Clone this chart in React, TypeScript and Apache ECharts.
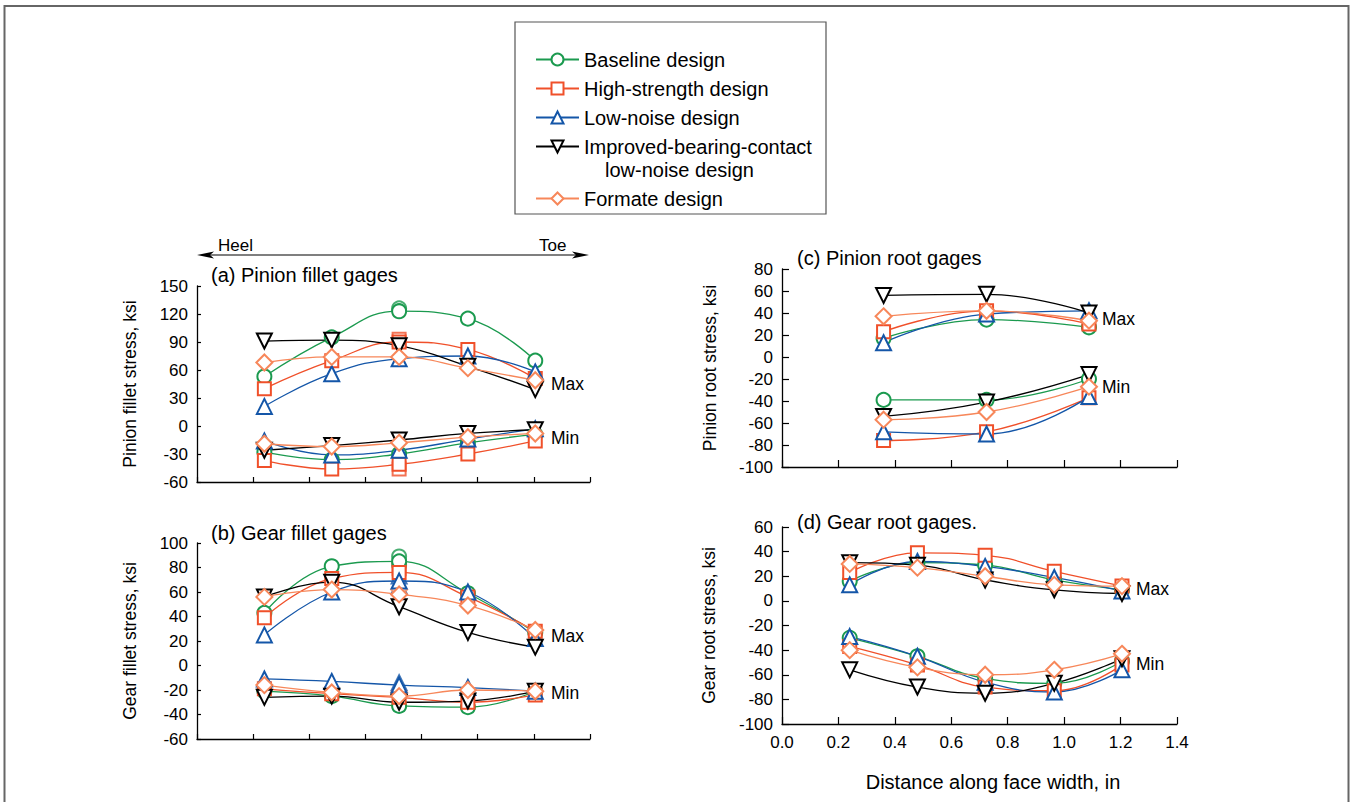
import React, { useEffect, useRef } from "react";
import * as echarts from "echarts";

// ---------- data ----------
const DESIGNS = [
  "Baseline design",
  "High-strength design",
  "Low-noise design",
  "Improved-bearing-contact low-noise design",
  "Formate design",
];
const COLORS = ["#1b9a4f", "#f0502a", "#1456a8", "#000000", "#f7875a"];
const SYMBOLS = ["emptyCircle", "emptyRect", "emptyTriangle", "emptyTriangle", "emptyDiamond"];
const SYMBOL_SIZES = [14, 13, 15, 15, 16];
const SYMBOL_ROTATE = [0, 0, 0, 180, 0];

const X_TOOTH = [0.24, 0.48, 0.72, 0.965, 1.205];
const X_PINION_ROOT = [0.36, 0.725, 1.088];

// (a) Pinion fillet gages, rows in DESIGNS order
const pinionFilletMax = [
  [53, 95, 123, 115, 70],
  [40, 70, 90, 82, 51],
  [21, 56, 72, 75, 58],
  [91, 92, 86, 64, 39],
  [68, 74, 74, 62, 49],
];
const pinionFilletMin = [
  [-28, -36, -30, -18, -9],
  [-37, -46, -41, -30, -16],
  [-16, -31, -26, -14, -3],
  [-26, -21, -15, -8, -4],
  [-19, -22, -18, -12, -8],
];
// extra gage readings at the same station: [design, x, value]
const pinionFilletExtra = [
  [0, 0.72, 126],
  [1, 0.72, 93],
  [1, 0.72, -46],
];

// (b) Gear fillet gages
const gearFilletMax = [
  [43, 81, 85, 59, 27],
  [39, 71, 76, 56, 28],
  [25, 60, 69, 60, 22],
  [56, 68, 48, 27, 15],
  [56, 62, 58, 49, 29],
];
const gearFilletMin = [
  [-21, -25, -33, -34, -21],
  [-19, -23, -26, -30, -24],
  [-11, -13, -16, -18, -21],
  [-26, -25, -30, -29, -21],
  [-16, -22, -25, -20, -21],
];
const gearFilletExtra = [
  [0, 0.72, 89],
  [0, 0.72, 82],
  [1, 0.72, 79],
  [2, 0.72, 73],
  [2, 0.72, 65],
  [4, 0.72, 62],
  [2, 0.72, -14],
  [2, 0.72, -18],
  [4, 0.72, -22],
];

// (c) Pinion root gages
const pinionRootMax = [
  [17, 34, 27],
  [23, 42, 30],
  [13, 39, 42],
  [56, 57, 40],
  [37, 42, 33],
];
const pinionRootMin = [
  [-39, -39, -20],
  [-76, -68, -37],
  [-68, -70, -36],
  [-54, -41, -16],
  [-57, -50, -27],
];

// (d) Gear root gages
const gearRootMax = [
  [16, 31, 29, 17, 9],
  [23, 39, 37, 24, 12],
  [13, 32, 28, 19, 8],
  [31, 29, 17, 9, 6],
  [30, 27, 20, 13, 12],
];
const gearRootMin = [
  [-30, -45, -63, -67, -49],
  [-37, -52, -70, -73, -52],
  [-29, -45, -66, -74, -56],
  [-56, -70, -75, -67, -47],
  [-40, -54, -60, -56, -43],
];

const PANEL_TITLES = ["(a) Pinion fillet gages", "(b) Gear fillet gages", "(c) Pinion root gages", "(d) Gear root gages."];
const Y_NAMES = ["Pinion fillet stress, ksi", "Gear fillet stress, ksi", "Pinion root stress, ksi", "Gear root stress, ksi"];
const Y_MIN = [-60, -60, -100, -100];
const Y_MAX = [150, 100, 80, 60];
const Y_STEP = [30, 20, 20, 20];
const X_NAME = "Distance along face width, in";

// ---------- layout ----------
const FONT = "'Liberation Sans', Arial, Helvetica, sans-serif";
const GRIDS = [
  { left: 197, top: 286, width: 393, height: 196 },
  { left: 197, top: 543, width: 393, height: 196 },
  { left: 782, top: 269, width: 395, height: 198 },
  { left: 782, top: 527, width: 395, height: 197 },
];
const NAME_GAPS = [58, 58, 63, 64];
const TITLE_POS = [
  [211, 265],
  [211, 523],
  [797, 248],
  [797, 512],
];
const MAXMIN_POS = [
  [551, 384, 551, 438],
  [551, 636, 551, 693],
  [1102, 319, 1102, 387],
  [1136, 589, 1136, 664],
];

const PANELS = [
  { xs: X_TOOTH, max: pinionFilletMax, min: pinionFilletMin, extra: pinionFilletExtra },
  { xs: X_TOOTH, max: gearFilletMax, min: gearFilletMin, extra: gearFilletExtra },
  { xs: X_PINION_ROOT, max: pinionRootMax, min: pinionRootMin, extra: [] as number[][] },
  { xs: X_TOOTH, max: gearRootMax, min: gearRootMin, extra: [] as number[][] },
];

const pair = (xs: number[], ys: number[]) => ys.map((y, i) => [xs[i], y]);

const markStyle = (d: number) => ({
  name: DESIGNS[d],
  symbol: SYMBOLS[d],
  symbolSize: SYMBOL_SIZES[d],
  symbolRotate: SYMBOL_ROTATE[d],
  itemStyle: { color: COLORS[d], borderWidth: 1.3 },
});

function buildSeries() {
  const lines: any[] = [];
  const extras: any[] = [];
  PANELS.forEach((p, i) => {
    for (let d = 0; d < DESIGNS.length; d++) {
      for (const ys of [p.max[d], p.min[d]]) {
        lines.push({
          type: "line",
          ...markStyle(d),
          xAxisIndex: i,
          yAxisIndex: i,
          smooth: 0.45,
          showSymbol: true,
          lineStyle: { color: COLORS[d], width: 1.3 },
          emphasis: { disabled: true },
          data: pair(p.xs, ys),
        });
      }
    }
    const byDesign: Record<number, number[][]> = {};
    p.extra.forEach(([d, x, y]) => {
      (byDesign[d] = byDesign[d] || []).push([x, y]);
    });
    Object.keys(byDesign).forEach((k) => {
      const d = Number(k);
      extras.push({
        type: "scatter",
        ...markStyle(d),
        xAxisIndex: i,
        yAxisIndex: i,
        emphasis: { disabled: true },
        data: byDesign[d],
      });
    });
  });
  return [...lines, ...extras];
}

function buildOption() {
  const xAxis = GRIDS.map((_, i) => ({
    type: "value",
    gridIndex: i,
    min: 0,
    max: 1.4,
    interval: 0.2,
    axisLine: { show: true, onZero: false, lineStyle: { color: "#000", width: 1.3 } },
    axisTick: { show: true, inside: true, length: i < 2 ? 5 : 7, lineStyle: { color: "#000", width: 1.2 } },
    axisLabel: {
      show: i === 3,
      fontSize: 17,
      fontFamily: FONT,
      color: "#000",
      margin: 10,
      showMinLabel: true,
      showMaxLabel: true,
      formatter: (v: number) => v.toFixed(1),
    },
    splitLine: { show: false },
  }));
  const yAxis = GRIDS.map((_, i) => ({
    type: "value",
    gridIndex: i,
    min: Y_MIN[i],
    max: Y_MAX[i],
    interval: Y_STEP[i],
    name: Y_NAMES[i],
    nameLocation: "middle",
    nameGap: NAME_GAPS[i],
    nameRotate: 90,
    nameTextStyle: { fontSize: 17.5, fontFamily: FONT, color: "#000" },
    axisLine: { show: true, onZero: false, lineStyle: { color: "#000", width: 1.3 } },
    axisTick: { show: true, inside: true, length: i < 2 ? 4 : 7, lineStyle: { color: "#000", width: 1.2 } },
    axisLabel: {
      fontSize: 17,
      fontFamily: FONT,
      color: "#000",
      margin: 9,
      showMinLabel: true,
      showMaxLabel: true,
    },
    splitLine: { show: false },
  }));

  const txt = (text: string, x: number, y: number, size: number, align = "left") => ({
    type: "text",
    silent: true,
    style: {
      text,
      x,
      y,
      fontSize: size,
      fontFamily: FONT,
      fill: "#000",
      align,
      verticalAlign: "middle",
    },
  });

  const graphic: any[] = [
    // outer frame
    {
      type: "rect",
      silent: true,
      shape: { x: 4.5, y: 6, width: 1344, height: 900 },
      style: { fill: "none", stroke: "#666", lineWidth: 2 },
    },
    // legend frame
    {
      type: "rect",
      silent: true,
      shape: { x: 515, y: 22, width: 311, height: 192 },
      style: { fill: "none", stroke: "#555", lineWidth: 1.2 },
    },
    txt("low-noise design", 605, 170, 20),
    // Heel / Toe arrow
    {
      type: "line",
      silent: true,
      shape: { x1: 205, y1: 255, x2: 581, y2: 255 },
      style: { stroke: "#000", lineWidth: 1.2 },
    },
    {
      type: "polygon",
      silent: true,
      shape: { points: [[197, 255], [214, 251.5], [210, 255], [214, 258.5]] },
      style: { fill: "#000" },
    },
    {
      type: "polygon",
      silent: true,
      shape: { points: [[589, 255], [572, 251.5], [576, 255], [572, 258.5]] },
      style: { fill: "#000" },
    },
    txt("Heel", 218, 245, 17),
    txt("Toe", 539, 245, 17),
    txt(X_NAME, 993, 782, 20, "center"),
  ];
  MAXMIN_POS.forEach(([x1, y1, x2, y2]) => {
    graphic.push(txt("Max", x1, y1, 17.5));
    graphic.push(txt("Min", x2, y2, 17.5));
  });

  const title = PANEL_TITLES.map((t, i) => ({
    text: t,
    left: TITLE_POS[i][0],
    top: TITLE_POS[i][1],
    padding: 0,
    textStyle: { fontSize: 20, fontWeight: "normal", fontFamily: FONT, color: "#000" },
  }));

  const legendText = { fontSize: 20, fontFamily: FONT, color: "#000", lineHeight: 20 };
  const legendFmt = (name: string) =>
    name === DESIGNS[3] ? "Improved-bearing-contact" : name;

  return {
    animation: false,
    backgroundColor: "#fff",
    title,
    grid: GRIDS.map((g) => ({ ...g, containLabel: false, outerBoundsMode: "none" })),
    xAxis,
    yAxis,
    legend: [
      {
        data: DESIGNS.slice(0, 4),
        orient: "vertical",
        left: 535,
        top: 49.5,
        padding: 0,
        itemWidth: 43,
        itemHeight: 15,
        itemGap: 9,
        textStyle: legendText,
        formatter: legendFmt,
        selectedMode: false,
      },
      {
        data: [DESIGNS[4]],
        orient: "vertical",
        left: 535,
        top: 188.5,
        padding: 0,
        itemWidth: 43,
        itemHeight: 15,
        textStyle: legendText,
        selectedMode: false,
      },
    ],
    graphic,
    series: buildSeries(),
  };
}

export default function App() {
  const ref = useRef<HTMLDivElement>(null);
  useEffect(() => {
    if (!ref.current) return;
    const chart = echarts.init(ref.current, null, { renderer: "svg" });
    chart.setOption(buildOption() as any);
    return () => chart.dispose();
  }, []);
  return (
    <div
      ref={ref}
      style={{ position: "fixed", left: 0, top: 0, width: 1353, height: 802, background: "#fff" }}
    />
  );
}
